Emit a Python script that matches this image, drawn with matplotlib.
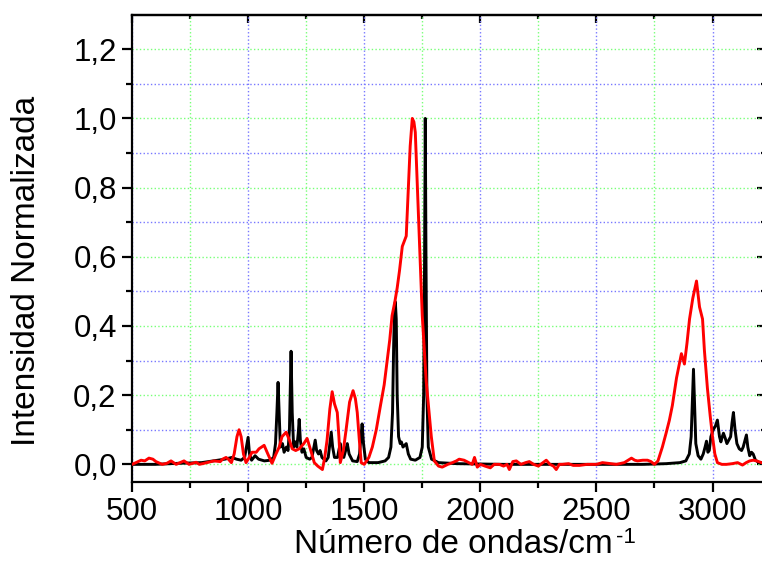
import matplotlib
matplotlib.use("Agg")
import matplotlib.pyplot as plt
from matplotlib.ticker import MultipleLocator, FuncFormatter

plt.rcParams['font.family'] = ['Liberation Sans', 'DejaVu Sans']

# Raman spectrum (black)
raman_x = [500, 600, 700, 800, 850, 900, 930, 950, 970, 985, 993, 1000, 1006, 1015,
           1030, 1045, 1070, 1095, 1110, 1118, 1124, 1129, 1134, 1139, 1148, 1155,
           1165, 1172, 1178, 1185, 1190, 1196, 1204, 1210, 1216, 1220, 1225, 1232,
           1240, 1250, 1265, 1275, 1282, 1289, 1295, 1303, 1310, 1318, 1335, 1345,
           1352, 1358, 1364, 1372, 1385, 1392, 1397, 1403, 1412, 1420, 1427, 1435,
           1450, 1470, 1480, 1486, 1491, 1497, 1505, 1520, 1560, 1590, 1605, 1615,
           1622, 1627, 1630, 1634, 1638, 1642, 1648, 1655, 1660, 1667, 1674, 1681,
           1690, 1700, 1720, 1740, 1750, 1756, 1760, 1763, 1766, 1770, 1776, 1790,
           1820, 1900, 2100, 2400, 2700, 2800, 2860, 2885, 2900, 2908, 2913, 2918,
           2923, 2928, 2938, 2950, 2960, 2968, 2974, 2980, 2986, 2993, 3003, 3012,
           3021, 3030, 3036, 3042, 3047, 3055, 3062, 3070, 3078, 3084, 3090, 3097,
           3105, 3115, 3125, 3132, 3140, 3146, 3152, 3160, 3168, 3175, 3185, 3200,
           3226]
raman_y = [0.0, 0.0, 0.003, 0.005, 0.01, 0.015, 0.02, 0.015, 0.012, 0.02, 0.05, 0.078,
           0.03, 0.012, 0.025, 0.015, 0.01, 0.012, 0.02, 0.06, 0.15, 0.237, 0.14, 0.05,
           0.06, 0.035, 0.05, 0.04, 0.1, 0.327, 0.15, 0.05, 0.065, 0.05, 0.09, 0.13,
           0.07, 0.035, 0.045, 0.02, 0.015, 0.02, 0.045, 0.07, 0.04, 0.03, 0.04, 0.02,
           0.01, 0.02, 0.06, 0.093, 0.05, 0.02, 0.02, 0.045, 0.06, 0.03, 0.02, 0.04,
           0.06, 0.03, 0.01, 0.008, 0.03, 0.08, 0.117, 0.06, 0.015, 0.005, 0.005, 0.01,
           0.02, 0.05, 0.15, 0.35, 0.43, 0.47, 0.42, 0.2, 0.08, 0.06, 0.065, 0.05,
           0.055, 0.06, 0.03, 0.015, 0.012, 0.02, 0.05, 0.2, 0.6, 1.0, 0.6, 0.2, 0.05,
           0.015, 0.005, 0.002, 0.0, 0.0, 0.0, 0.002, 0.005, 0.01, 0.03, 0.08, 0.18,
           0.275, 0.17, 0.06, 0.025, 0.015, 0.03, 0.05, 0.067, 0.035, 0.04, 0.08, 0.1,
           0.11, 0.128, 0.08, 0.065, 0.08, 0.09, 0.075, 0.06, 0.07, 0.08, 0.12, 0.15,
           0.1, 0.06, 0.045, 0.04, 0.05, 0.07, 0.085, 0.05, 0.025, 0.035, 0.03, 0.012,
           0.005, 0.005]

# IR spectrum (red)
ir_x = [500, 517, 539, 555, 573, 590, 603, 630, 650, 668, 690, 724, 746, 776, 790,
        810, 853, 880, 890, 905, 915, 928, 940, 952, 961, 970, 980, 991, 1005, 1017,
        1035, 1047, 1058, 1069, 1085, 1103, 1120, 1134, 1146, 1164, 1178, 1190, 1205,
        1220, 1240, 1254, 1270, 1285, 1300, 1320, 1330, 1340, 1352, 1362, 1372, 1384,
        1391, 1397, 1410, 1422, 1437, 1452, 1462, 1470, 1479, 1487, 1500, 1520, 1535,
        1552, 1570, 1586, 1599, 1610, 1620, 1632, 1642, 1652, 1664, 1681, 1690, 1698,
        1707, 1714, 1720, 1728, 1737, 1750, 1767, 1789, 1802, 1820, 1836, 1860, 1880,
        1897, 1909, 1930, 1950, 1965, 1975, 1987, 2000, 2020, 2043, 2060, 2082, 2100,
        2115, 2125, 2140, 2155, 2175, 2195, 2211, 2230, 2250, 2270, 2284, 2300, 2315,
        2327, 2340, 2353, 2380, 2400, 2427, 2460, 2500, 2526, 2550, 2586, 2620, 2651,
        2665, 2677, 2700, 2720, 2735, 2750, 2765, 2784, 2800, 2814, 2827, 2845, 2866,
        2879, 2890, 2901, 2915, 2931, 2944, 2957, 2965, 2978, 2990, 3000, 3010, 3021,
        3040, 3060, 3085, 3108, 3129, 3145, 3160, 3175, 3190, 3211, 3226]
ir_y = [0.0, 0.005, 0.012, 0.01, 0.018, 0.015, 0.008, 0.0, 0.003, 0.01, 0.0, 0.01, 0.0,
        0.006, 0.0, 0.003, 0.01, 0.008, 0.015, 0.02, 0.015, 0.005, 0.03, 0.08, 0.1, 0.08,
        0.03, 0.005, 0.02, 0.035, 0.035, 0.045, 0.05, 0.055, 0.03, 0.003, 0.03, 0.05,
        0.08, 0.093, 0.07, 0.045, 0.04, 0.045, 0.06, 0.075, 0.04, 0.005, -0.005,
        -0.015, 0.02, 0.07, 0.16, 0.21, 0.175, 0.15, 0.08, 0.005, 0.04, 0.1, 0.18,
        0.213, 0.19, 0.15, 0.07, 0.005, 0.0, 0.02, 0.05, 0.1, 0.17, 0.23, 0.3, 0.36,
        0.43, 0.47, 0.51, 0.56, 0.63, 0.66, 0.8, 0.92, 1.0, 0.99, 0.96, 0.82, 0.67,
        0.43, 0.24, 0.08, 0.01, -0.005, -0.008, 0.0, 0.005, 0.01, 0.015, 0.012, 0.005,
        0.0, 0.02, -0.008, 0.0, -0.005, -0.01, 0.0, 0.0, -0.005, 0.0, -0.015, 0.008,
        0.01, 0.0, 0.005, 0.008, 0.0, -0.005, 0.005, 0.012, 0.0, -0.005, -0.015, 0.0,
        0.0, 0.002, -0.003, -0.003, 0.0, 0.0, 0.005, 0.003, 0.0, 0.005, 0.018, 0.012,
        0.01, 0.012, 0.012, 0.008, 0.0, 0.01, 0.05, 0.09, 0.127, 0.17, 0.25, 0.32,
        0.29, 0.35, 0.42, 0.48, 0.53, 0.455, 0.42, 0.33, 0.22, 0.14, 0.08, 0.03, 0.005,
        0.0, 0.0, 0.002, 0.005, -0.002, 0.005, 0.01, 0.012, 0.01, 0.005, 0.005]

W, H = 762, 561
fig = plt.figure(figsize=(W / 100, H / 100), dpi=100)
ax = fig.add_axes([132 / W, 79 / H, (765 - 132) / W, (482 - 15) / H])

ax.plot(raman_x, raman_y, color='black', lw=2.1, zorder=3, solid_joinstyle='round')
ax.plot(ir_x, ir_y, color='red', lw=2.1, zorder=4, solid_joinstyle='round')

ax.set_xlim(500, 3226)
ax.set_ylim(-0.051, 1.299)

ax.xaxis.set_major_locator(MultipleLocator(500))
ax.xaxis.set_minor_locator(MultipleLocator(250))
ax.yaxis.set_major_locator(MultipleLocator(0.2))
ax.yaxis.set_minor_locator(MultipleLocator(0.1))
ax.yaxis.set_major_formatter(FuncFormatter(lambda v, p: f"{v:.1f}".replace('.', ',')))

blue = '#7878ff'
green = '#78ff78'
ax.grid(which='major', axis='x', color=blue, ls=':', lw=1.0, zorder=1)
ax.grid(which='minor', axis='x', color=green, ls=':', lw=1.0, zorder=1)
ax.grid(which='major', axis='y', color=green, ls=':', lw=1.0, zorder=1)
ax.grid(which='minor', axis='y', color=blue, ls=':', lw=1.0, zorder=1)

for s in ax.spines.values():
    s.set_linewidth(1.6)

ax.tick_params(which='major', direction='out', length=7, width=1.6, labelsize=22.5,
               pad=4, top=False, right=False)
ax.tick_params(which='minor', direction='out', length=4.5, width=1.6,
               top=False, right=False)

# inward ticks on the top and right edges
sec_x = ax.secondary_xaxis('top')
sec_x.xaxis.set_major_locator(MultipleLocator(500))
sec_x.xaxis.set_minor_locator(MultipleLocator(250))
sec_x.tick_params(which='major', direction='in', length=6, width=1.6, labeltop=False)
sec_x.tick_params(which='minor', direction='in', length=3, width=1.6)
sec_x.spines['top'].set_linewidth(1.6)
sec_y = ax.secondary_yaxis('right')
sec_y.yaxis.set_major_locator(MultipleLocator(0.2))
sec_y.yaxis.set_minor_locator(MultipleLocator(0.1))
sec_y.tick_params(which='major', direction='in', length=6, width=1.6, labelright=False)
sec_y.tick_params(which='minor', direction='in', length=3, width=1.6)

# axis titles
fig.text(27 / W, 1 - 271 / H, 'Intensidad Normalizada', fontsize=24, rotation=90,
         ha='center', va='center')
xlab = fig.text(294 / W, 8 / H, 'Número de ondas/cm', fontsize=24,
                ha='left', va='baseline')
fig.canvas.draw()
bb = xlab.get_window_extent()
fig.text((bb.x1 + 3) / W, 18 / H, '-1', fontsize=16, ha='left', va='baseline')

fig.savefig('out.png', dpi=100)
